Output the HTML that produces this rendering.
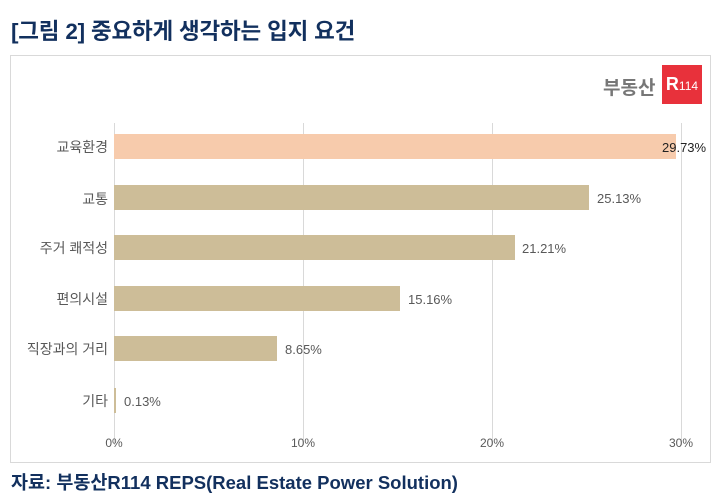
<!DOCTYPE html>
<html><head><meta charset="utf-8"><style>
body{margin:0;width:718px;height:497px;background:#fff;position:relative;font-family:"Liberation Sans","Noto Sans CJK KR",sans-serif;overflow:hidden}
.t{position:absolute;left:11px;top:14px;font-size:22.5px;font-weight:bold;color:#12305e;letter-spacing:-0.2px}
.f{position:absolute;left:11px;top:469px;font-size:18.5px;font-weight:bold;color:#12305e}
.frame{position:absolute;left:10px;top:55px;width:701px;height:408px;border:1px solid #d9d9d9;box-sizing:border-box}
.g{position:absolute;top:123px;height:322px;width:1px;background:#d9d9d9}
.lab{position:absolute;right:610px;font-size:14px;color:#595959;text-align:right;white-space:nowrap}
.bar{position:absolute;left:114px;height:25px;background:#cdbd98}
.v{position:absolute;font-size:13px;color:#595959}
.x{position:absolute;top:436px;font-size:12px;color:#595959;transform:translateX(-50%)}
</style></head><body>
<div class="t">[그림 2] 중요하게 생각하는 입지 요건</div>
<div class="frame"></div>
<div style="position:absolute;left:603px;top:73px;font-size:19px;font-weight:bold;color:#777">부동산</div>
<div style="position:absolute;left:662px;top:65px;width:40px;height:39px;background:#e8313b;color:#fff;font-weight:bold;font-size:18px;line-height:39px;text-align:center">R<span style="font-size:12px;font-weight:normal">114</span></div>
<div class="g" style="left:114px"></div><div class="g" style="left:303px"></div><div class="g" style="left:492px"></div><div class="g" style="left:681px"></div>
<div class="bar" style="top:134px;width:562px;background:#f7cbac"></div>
<div class="bar" style="top:185px;width:475px"></div>
<div class="bar" style="top:235px;width:401px"></div>
<div class="bar" style="top:286px;width:286px"></div>
<div class="bar" style="top:336px;width:163px"></div>
<div class="bar" style="top:388px;width:2px"></div>
<div class="lab" style="top:137px">교육환경</div>
<div class="lab" style="top:189px">교통</div>
<div class="lab" style="top:238px">주거 쾌적성</div>
<div class="lab" style="top:289px">편의시설</div>
<div class="lab" style="top:339px">직장과의 거리</div>
<div class="lab" style="top:391px">기타</div>
<div class="v" style="left:662px;top:140px;color:#222">29.73%</div>
<div class="v" style="left:597px;top:191px">25.13%</div>
<div class="v" style="left:522px;top:241px">21.21%</div>
<div class="v" style="left:408px;top:292px">15.16%</div>
<div class="v" style="left:285px;top:342px">8.65%</div>
<div class="v" style="left:124px;top:394px">0.13%</div>
<div class="x" style="left:114px">0%</div><div class="x" style="left:303px">10%</div><div class="x" style="left:492px">20%</div><div class="x" style="left:681px">30%</div>
<div class="f">자료: 부동산R114 REPS(Real Estate Power Solution)</div>
</body></html>
